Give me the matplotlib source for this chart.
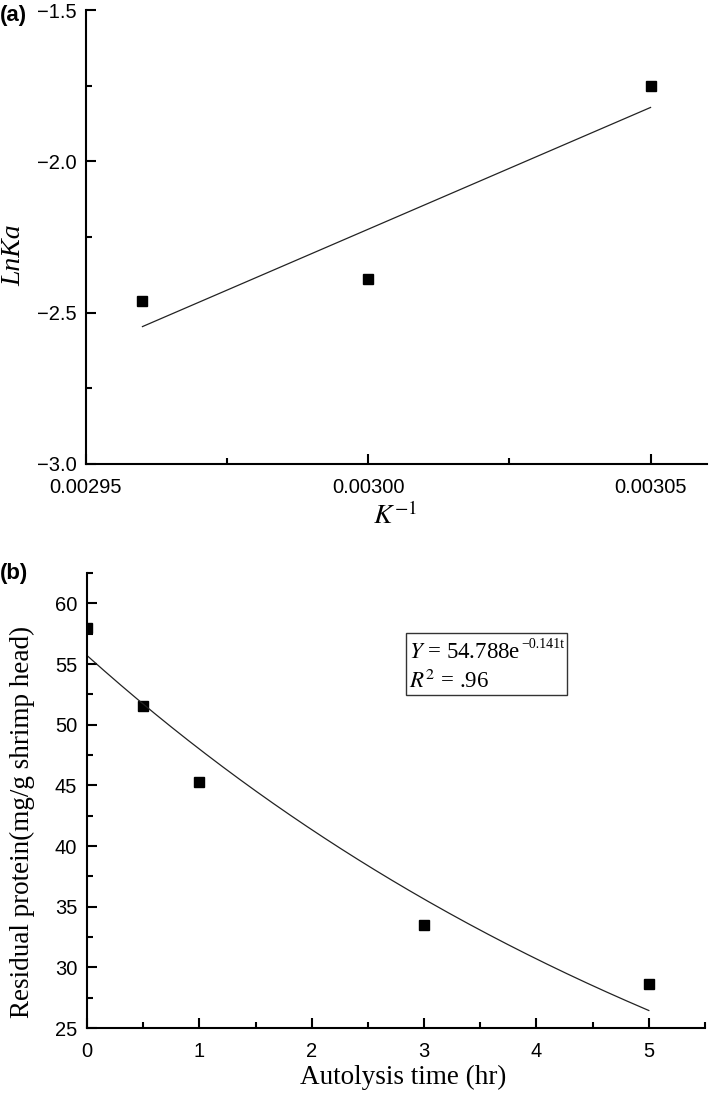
import numpy as np
import matplotlib
matplotlib.use('Agg')
import matplotlib.pyplot as plt
from matplotlib.ticker import MultipleLocator, FuncFormatter
from matplotlib.patches import Rectangle

plt.rcParams['font.family'] = ['Liberation Sans', 'DejaVu Sans']
plt.rcParams['mathtext.fontset'] = 'stix'

# (a) Arrhenius plot
inv_T = [0.00296, 0.00300, 0.00305]
ln_ka = [-2.46, -2.39, -1.75]
fit_a_x = [0.00296, 0.00305]
fit_a_y = [-2.546, -1.822]

# (b) residual protein during autolysis
time_hr = [0, 0.5, 1, 3, 5]
protein = [58.0, 51.5, 45.3, 33.5, 28.6]
fit_b_a = 55.7    # curve as drawn in the figure
fit_b_k = 0.149

fig = plt.figure(figsize=(7.09, 10.97), dpi=100)
serif = ['Liberation Serif', 'DejaVu Serif']
H = 1097.0
W = 709.0

def fmt(f):
    return FuncFormatter(lambda v, p: (f % v).replace('-', '\u2212'))

def style(ax):
    for s in ['top', 'right']:
        ax.spines[s].set_visible(False)
    for s in ['left', 'bottom']:
        ax.spines[s].set_linewidth(1.5)
    ax.tick_params(which='major', direction='in', length=7, width=1.5, labelsize=14.5)
    ax.tick_params(which='minor', direction='in', length=4, width=1.5)
    ax.tick_params(axis='x', pad=10)
    ax.tick_params(axis='y', pad=7)

# ---- panel a
ax1 = fig.add_axes([86 / W, 1 - 464 / H, (707 - 86) / W, (464 - 10) / H])
style(ax1)
ax1.plot(inv_T, ln_ka, 's', color='black', ms=7.5)
ax1.plot(fit_a_x, fit_a_y, '-', color='#222222', lw=0.9)
ax1.set_xlim(0.00295, 0.00306)
ax1.set_ylim(-3.0, -1.5)
ax1.xaxis.set_major_locator(MultipleLocator(0.00005))
ax1.xaxis.set_minor_locator(MultipleLocator(0.000025))
ax1.xaxis.set_major_formatter(fmt('%.5f'))
ax1.yaxis.set_major_locator(MultipleLocator(0.5))
ax1.yaxis.set_minor_locator(MultipleLocator(0.25))
ax1.yaxis.set_major_formatter(fmt('%.1f'))
fig.text(395 / W, 1 - 516 / H, r'$K^{\mathit{-1}}$', fontsize=20, ha='center', va='center')
fig.text(14 / W, 1 - 255 / H, 'LnKa', fontsize=20, family=serif, style='italic',
         rotation=90, ha='center', va='center')
fig.text(0.0, 1 - 16 / H, '(a)', fontsize=16, fontweight='bold', va='center', ha='left')

# ---- panel b
ax2 = fig.add_axes([87 / W, 1 - 1028 / H, (705 - 87) / W, (1028 - 573) / H])
style(ax2)
ax2.plot(time_hr, protein, 's', color='black', ms=7.5)
tt = np.linspace(0, 5, 200)
ax2.plot(tt, fit_b_a * np.exp(-fit_b_k * tt), '-', color='#222222', lw=0.9)
ax2.set_xlim(0, 5.5)
ax2.set_ylim(25, 62.5)
ax2.xaxis.set_major_locator(MultipleLocator(1))
ax2.xaxis.set_minor_locator(MultipleLocator(0.5))
ax2.yaxis.set_major_locator(MultipleLocator(5))
ax2.yaxis.set_minor_locator(MultipleLocator(2.5))
fig.text(403 / W, 1 - 1077 / H, 'Autolysis time (hr)', fontsize=19.5, family=serif,
         ha='center', va='center')
fig.text(22 / W, 1 - 822 / H, 'Residual protein(mg/g shrimp head)', fontsize=19.5,
         family=serif, rotation=90, ha='center', va='center')
fig.text(0.0, 1 - 573 / H, '(b)', fontsize=16, fontweight='bold', va='center', ha='left')

# equation box, exponent drawn smaller as in the original
line1 = fig.text(409 / W, 1 - 658 / H, '$Y$ = 54.788e', fontsize=16.5, family=serif,
                 va='baseline', ha='left')
fig.canvas.draw()
r = fig.canvas.get_renderer()
bb = line1.get_window_extent(r)
expo = fig.text((bb.x1 + 1) / W, 1 - 648 / H, '\u22120.141t', fontsize=10, family=serif,
                va='baseline', ha='left')
fig.text(409 / W, 1 - 688 / H, '$R^2$ = .96', fontsize=16.5, family=serif,
         va='baseline', ha='left')
fig.canvas.draw()
eb = expo.get_window_extent(r)
x_right = eb.x1 + 3
fig.add_artist(Rectangle((406 / W, 1 - 695 / H), (x_right - 406) / W, 62 / H,
                         transform=fig.transFigure, fill=False, ec='#333333', lw=1.0))

fig.savefig('out.png', dpi=100)
